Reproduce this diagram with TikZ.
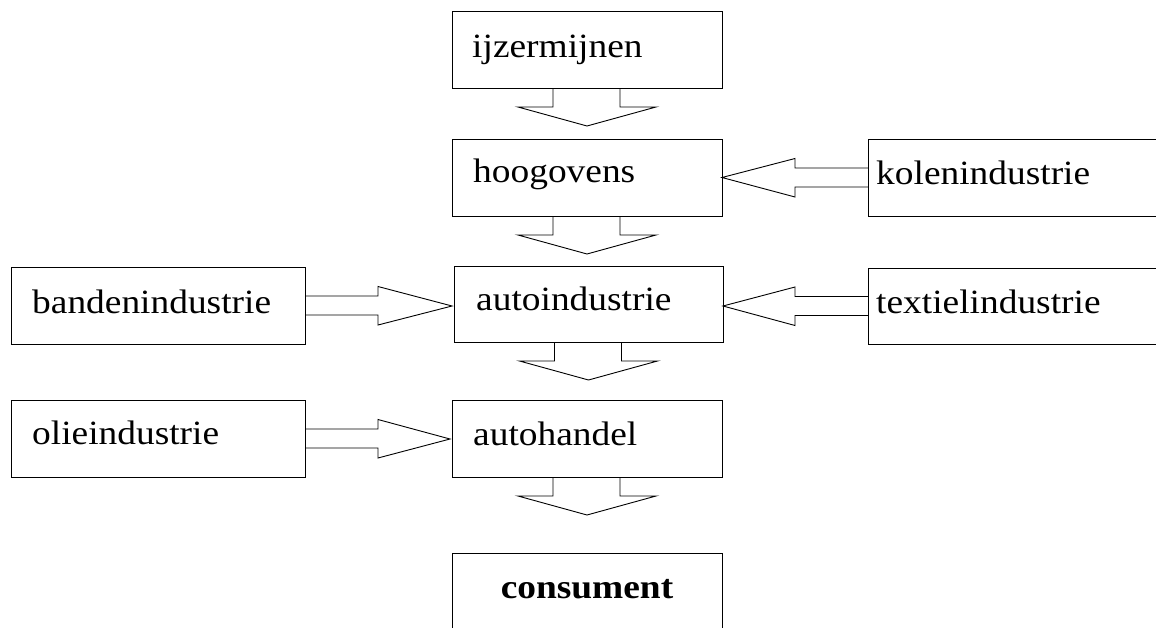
\documentclass[tikz,border=0pt]{standalone}
\usepackage{fontspec}
\setmainfont{Liberation Serif}[FakeStretch=1.1]
\usetikzlibrary{calc}
\begin{document}
\begin{tikzpicture}[x=1pt,y=-1pt,
  box/.style={draw=black,line width=0.9pt,minimum width=270pt,minimum height=77pt,inner sep=0pt,anchor=north west,outer sep=0pt},
  sidebox/.style={box,minimum width=294pt},
  lbl/.style={anchor=base west,inner sep=0pt,font=\fontsize{34}{40}\selectfont},
  blk/.style={draw=black,line width=0.9pt,line join=miter}]
\clip (0,0) rectangle (1156,627);
\useasboundingbox (0,0) rectangle (1156,627);
% boxes
\node[box] (ij) at (452,11) {};
\node[box] (hoog) at (452,139) {};
\node[box,minimum width=269pt,minimum height=76pt] (auto) at (454,266) {};
\node[box] (handel) at (452,400) {};
\node[box,minimum height=100pt] (cons) at (452,553) {};
\node[sidebox,minimum height=77pt] (banden) at (11,267) {};
\node[sidebox] (olie) at (11,400) {};
\node[box,minimum width=310pt] (kolen) at (868,139) {};
\node[box,minimum width=310pt,minimum height=76pt] (textiel) at (868,268) {};
% texts
\node[lbl] (tij) at (472,57) {ijzermijnen};
\node[lbl] (thoog) at (473,182) {hoogovens};
\node[lbl] (tauto) at (476,310) {autoindustrie};
\node[lbl] (thandel) at (473,445) {autohandel};
\node[lbl,anchor=base,font=\fontsize{34}{40}\selectfont\bfseries] (tcons) at (587,598) {consument};
\node[lbl] (tbanden) at (32,313) {bandenindustrie};
\node[lbl] (tolie) at (32,444) {olieindustrie};
\node[lbl] (tkolen) at (876,184) {kolenindustrie};
\node[lbl] (ttextiel) at (876,313) {textielindustrie};
% down block arrows
\foreach \a/\b in {ij/hoog,hoog/auto,auto/handel,handel/cons}{
  \draw[blk] ($(\a.south)+(-34,0)$) -- ++(0,19) -- ++(-35,0) -- ($(\a.south)+(0,38)$) -- ($(\a.south)+(69,19)$) -- ++(-36,0) -- ($(\a.south)+(33,0)$);
}
% right-pointing block arrows
\foreach \a/\b in {banden/auto,olie/handel}{
  \draw[blk] ($(\a.east)+(0,-9.5)$) -- ++(73,0) -- ++(0,-9.5) -- ($(\b.west |- \a.east)+(-2,0.5)$) -- ($(\a.east)+(73,19.5)$) -- ++(0,-10) -- ($(\a.east)+(0,9.5)$);
}
% left-pointing block arrows
\foreach \a/\b in {kolen/hoog,textiel/auto}{
  \draw[blk] ($(\a.west)+(0,-9.5)$) -- ++(-73,0) -- ++(0,-9.5) -- (\b.east |- \a.west) -- ($(\a.west)+(-73,19.5)$) -- ++(0,-10) -- ($(\a.west)+(0,9.5)$);
}
\end{tikzpicture}
\end{document}
